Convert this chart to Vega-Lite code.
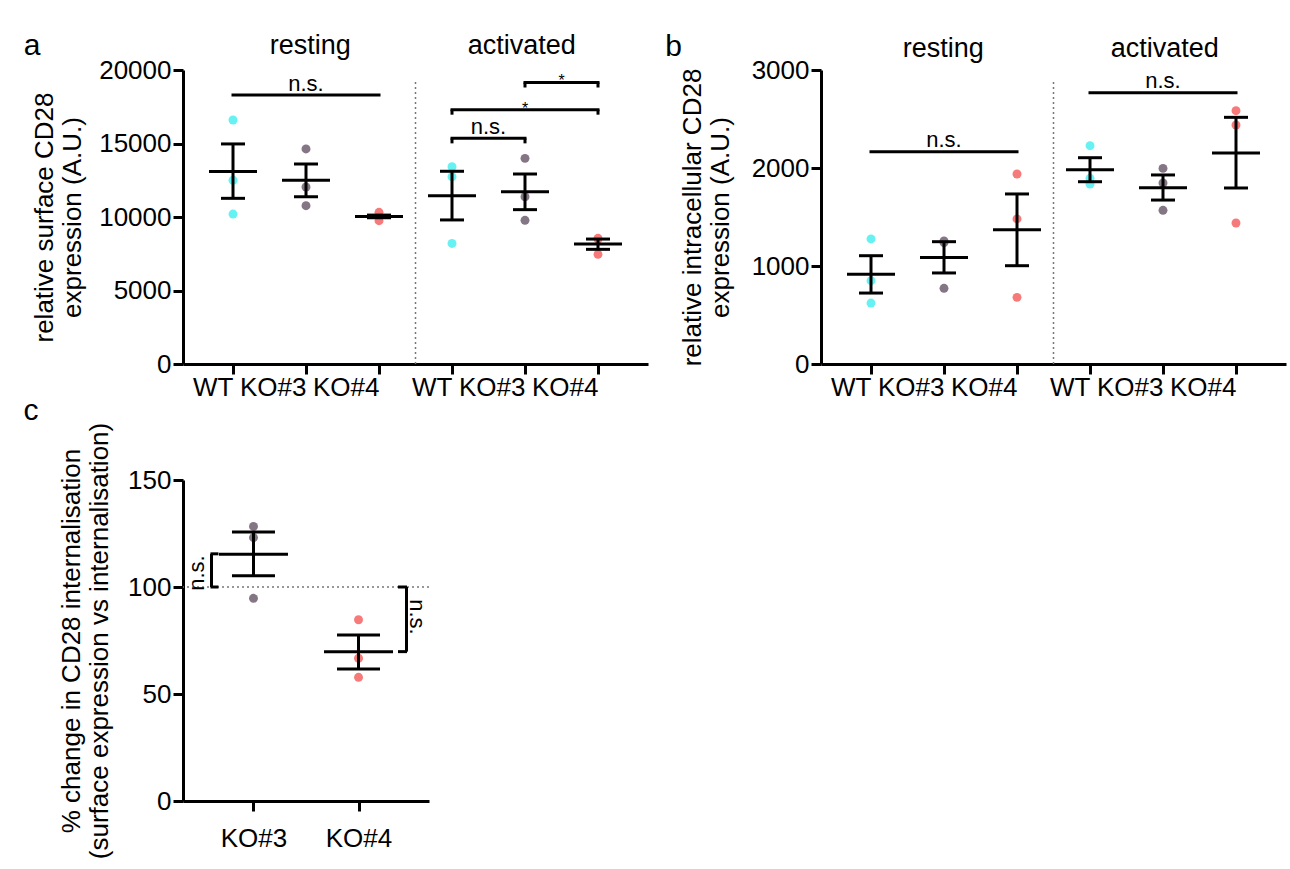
{
  "$schema": "https://vega.github.io/schema/vega-lite/v6.json",
  "background": "white",
  "padding": {"left": 23, "top": 31, "right": 5, "bottom": 5},
  "config": {
    "font": "Liberation Sans",
    "view": {"stroke": null},
    "axis": {"domainColor": "black", "domainWidth": 3, "tickColor": "black", "tickWidth": 3, "tickSize": 10, "labelFontSize": 26, "labelColor": "black", "titleFontSize": 26, "titleFontWeight": "normal", "titleColor": "black", "grid": false},
    "title": {"fontSize": 30, "fontWeight": "normal", "anchor": "start", "color": "black"}
  },
  "datasets": {
    "a_pts": [
      {"group": "resting WT", "genotype": "WT", "value": 16600},
      {"group": "resting WT", "genotype": "WT", "value": 12500},
      {"group": "resting WT", "genotype": "WT", "value": 10200},
      {"group": "resting KO#3", "genotype": "KO#3", "value": 14630},
      {"group": "resting KO#3", "genotype": "KO#3", "value": 12040},
      {"group": "resting KO#3", "genotype": "KO#3", "value": 10770},
      {"group": "resting KO#4", "genotype": "KO#4", "value": 9750},
      {"group": "resting KO#4", "genotype": "KO#4", "value": 10320},
      {"group": "resting KO#4", "genotype": "KO#4", "value": 10050},
      {"group": "activated WT", "genotype": "WT", "value": 12740},
      {"group": "activated WT", "genotype": "WT", "value": 13420},
      {"group": "activated WT", "genotype": "WT", "value": 8200},
      {"group": "activated KO#3", "genotype": "KO#3", "value": 13990},
      {"group": "activated KO#3", "genotype": "KO#3", "value": 11380},
      {"group": "activated KO#3", "genotype": "KO#3", "value": 9775},
      {"group": "activated KO#4", "genotype": "KO#4", "value": 8550},
      {"group": "activated KO#4", "genotype": "KO#4", "value": 8500},
      {"group": "activated KO#4", "genotype": "KO#4", "value": 7460}
    ],
    "a_sum": [
      {"group": "resting WT", "mean": 13100, "lo": 11270, "hi": 14970},
      {"group": "resting KO#3", "mean": 12500, "lo": 11380, "hi": 13600},
      {"group": "resting KO#4", "mean": 10040, "lo": 9950, "hi": 10130},
      {"group": "activated WT", "mean": 11450, "lo": 9800, "hi": 13110},
      {"group": "activated KO#3", "mean": 11720, "lo": 10500, "hi": 12925},
      {"group": "activated KO#4", "mean": 8160, "lo": 7800, "hi": 8500}
    ],
    "a_sig": [
      {"from": "resting WT", "to": "resting KO#4", "mid": "resting KO#3", "y": 18300, "label": "n.s."},
      {"from": "activated WT", "to": "activated KO#3", "mid": "activated WT|KO#3", "y": 15350, "label": "n.s."},
      {"from": "activated WT", "to": "activated KO#4", "mid": "activated KO#3", "y": 17300, "label": "*"},
      {"from": "activated KO#3", "to": "activated KO#4", "mid": "activated KO#3|KO#4", "y": 19150, "label": "*"}
    ],
    "b_pts": [
      {"group": "resting WT", "genotype": "WT", "value": 1276},
      {"group": "resting WT", "genotype": "WT", "value": 850},
      {"group": "resting WT", "genotype": "WT", "value": 622},
      {"group": "resting KO#3", "genotype": "KO#3", "value": 1255},
      {"group": "resting KO#3", "genotype": "KO#3", "value": 1240},
      {"group": "resting KO#3", "genotype": "KO#3", "value": 772},
      {"group": "resting KO#4", "genotype": "KO#4", "value": 1939},
      {"group": "resting KO#4", "genotype": "KO#4", "value": 1480},
      {"group": "resting KO#4", "genotype": "KO#4", "value": 680},
      {"group": "activated WT", "genotype": "WT", "value": 2228},
      {"group": "activated WT", "genotype": "WT", "value": 1837},
      {"group": "activated WT", "genotype": "WT", "value": 1895},
      {"group": "activated KO#3", "genotype": "KO#3", "value": 1996},
      {"group": "activated KO#3", "genotype": "KO#3", "value": 1847},
      {"group": "activated KO#3", "genotype": "KO#3", "value": 1568},
      {"group": "activated KO#4", "genotype": "KO#4", "value": 2585},
      {"group": "activated KO#4", "genotype": "KO#4", "value": 2439},
      {"group": "activated KO#4", "genotype": "KO#4", "value": 1439}
    ],
    "b_sum": [
      {"group": "resting WT", "mean": 915, "lo": 724, "hi": 1105},
      {"group": "resting KO#3", "mean": 1088, "lo": 929, "hi": 1248},
      {"group": "resting KO#4", "mean": 1370, "lo": 1003, "hi": 1735},
      {"group": "activated WT", "mean": 1983, "lo": 1860, "hi": 2105},
      {"group": "activated KO#3", "mean": 1799, "lo": 1673, "hi": 1929},
      {"group": "activated KO#4", "mean": 2153, "lo": 1796, "hi": 2517}
    ],
    "b_sig": [
      {"from": "resting WT", "to": "resting KO#4", "mid": "resting KO#3", "y": 2166, "label": "n.s."},
      {"from": "activated WT", "to": "activated KO#4", "mid": "activated KO#3", "y": 2768, "label": "n.s."}
    ],
    "c_pts": [
      {"genotype": "KO#3", "value": 128.3},
      {"genotype": "KO#3", "value": 123.1},
      {"genotype": "KO#3", "value": 94.7},
      {"genotype": "KO#4", "value": 84.7},
      {"genotype": "KO#4", "value": 66.7},
      {"genotype": "KO#4", "value": 57.8}
    ],
    "c_sum": [
      {"genotype": "KO#3", "mean": 115.3, "lo": 105.2, "hi": 125.7},
      {"genotype": "KO#4", "mean": 69.8, "lo": 61.7, "hi": 77.6}
    ],
    "c_sig": [
      {"genotype": "KO#3", "from": 100, "to": 115.5, "label": "n.s."},
      {"genotype": "KO#4", "from": 100, "to": 69.8, "label": "n.s."}
    ]
  },
  "columns": 2,
  "align": "none",
  "spacing": {"row": -4, "column": 17},
  "concat": [
    {
      "width": 465,
      "height": 294,
      "title": {"text": "a", "anchor": "start", "frame": "bounds", "fontSize": 30, "baseline": "alphabetic", "offset": 0, "dx": -8, "dy": 54},
      "layer": [
        {
          "data": {"values": [{"condition": "resting"}, {"condition": "activated"}]},
          "mark": {"type": "point", "opacity": 0},
          "encoding": {
            "x": {"field": "condition", "type": "nominal", "sort": null, "scale": {"type": "point", "domain": ["resting", "activated"], "padding": 0.6}, "axis": {"orient": "top", "title": null, "domain": false, "ticks": false, "labelPadding": 11, "labelAngle": 0, "labelFontSize": 27}}
          }
        },
        {
          "layer": [
            {
              "data": {"values": [{}]},
              "mark": {"type": "rule", "strokeDash": [2, 3], "strokeWidth": 1.5, "color": "#777777"},
              "encoding": {
                "x": {"datum": "divider", "type": "nominal"},
                "y": {"datum": 0, "type": "quantitative"},
                "y2": {"datum": 19200}
              }
            },
            {
              "data": {"name": "a_pts"},
              "mark": {"type": "circle", "size": 80, "opacity": 1},
              "encoding": {
                "x": {"field": "group", "type": "nominal", "sort": null, "scale": {"type": "point", "domain": ["start", "resting WT", "resting WT|KO#3", "resting KO#3", "resting KO#3|KO#4", "resting KO#4", "divider", "activated WT", "activated WT|KO#3", "activated KO#3", "activated KO#3|KO#4", "activated KO#4", "end"], "padding": 0.37}, "axis": {"orient": "bottom", "title": null, "values": ["resting WT", "resting KO#3", "resting KO#4", "activated WT", "activated KO#3", "activated KO#4"], "labelExpr": "split(datum.label, ' ')[1]", "labelAngle": 0, "labelPadding": 13, "labelFontSize": 26}},
                "y": {"field": "value", "type": "quantitative", "scale": {"domain": [0, 20000], "nice": false}, "axis": {"values": [0, 5000, 10000, 15000, 20000], "format": "d", "title": ["relative surface CD28", "expression (A.U.)"], "titlePadding": 13, "labelPadding": 2, "titleLineHeight": 28}},
                "color": {"field": "genotype", "type": "nominal", "scale": {"domain": ["WT", "KO#3", "KO#4"], "range": ["#66f2f2", "#857685", "#f77a7a"]}, "legend": null}
              }
            },
            {
              "data": {"name": "a_sum"},
              "mark": {"type": "rule", "strokeWidth": 3, "color": "black"},
              "encoding": {
                "x": {"field": "group", "type": "nominal"},
                "y": {"field": "lo", "type": "quantitative"},
                "y2": {"field": "hi"}
              }
            },
            {
              "data": {"name": "a_sum"},
              "mark": {"type": "tick", "orient": "horizontal", "size": 48, "thickness": 3, "color": "black", "opacity": 1},
              "encoding": {
                "x": {"field": "group", "type": "nominal"},
                "y": {"field": "mean", "type": "quantitative"}
              }
            },
            {
              "data": {"name": "a_sum"},
              "mark": {"type": "tick", "orient": "horizontal", "size": 24, "thickness": 3, "color": "black", "opacity": 1},
              "encoding": {
                "x": {"field": "group", "type": "nominal"},
                "y": {"field": "lo", "type": "quantitative"}
              }
            },
            {
              "data": {"name": "a_sum"},
              "mark": {"type": "tick", "orient": "horizontal", "size": 24, "thickness": 3, "color": "black", "opacity": 1},
              "encoding": {
                "x": {"field": "group", "type": "nominal"},
                "y": {"field": "hi", "type": "quantitative"}
              }
            },
            {
              "data": {"name": "a_sig"},
              "mark": {"type": "rule", "strokeWidth": 3, "color": "black", "strokeCap": "square"},
              "encoding": {
                "x": {"field": "from", "type": "nominal"},
                "x2": {"field": "to"},
                "y": {"field": "y", "type": "quantitative"}
              }
            },
            {
              "data": {"name": "a_sig"},
              "transform": [{"filter": "indexof(datum.from, 'activated') == 0"}],
              "mark": {"type": "rule", "strokeWidth": 3, "color": "black", "y2Offset": 5},
              "encoding": {
                "x": {"field": "from", "type": "nominal"},
                "y": {"field": "y", "type": "quantitative"},
                "y2": {"field": "y"}
              }
            },
            {
              "data": {"name": "a_sig"},
              "transform": [{"filter": "indexof(datum.from, 'activated') == 0"}],
              "mark": {"type": "rule", "strokeWidth": 3, "color": "black", "y2Offset": 5},
              "encoding": {
                "x": {"field": "to", "type": "nominal"},
                "y": {"field": "y", "type": "quantitative"},
                "y2": {"field": "y"}
              }
            },
            {
              "data": {"name": "a_sig"},
              "transform": [{"filter": "datum.label == 'n.s.'"}],
              "mark": {"type": "text", "fontSize": 22, "baseline": "alphabetic", "dy": -4, "color": "black"},
              "encoding": {
                "x": {"field": "mid", "type": "nominal"},
                "y": {"field": "y", "type": "quantitative"},
                "text": {"field": "label"}
              }
            },
            {
              "data": {"name": "a_sig"},
              "transform": [{"filter": "datum.label == '*'"}],
              "mark": {"type": "text", "fontSize": 16, "baseline": "alphabetic", "dy": 4, "color": "black"},
              "encoding": {
                "x": {"field": "mid", "type": "nominal"},
                "y": {"field": "y", "type": "quantitative"},
                "text": {"field": "label"}
              }
            }
          ]
        }
      ],
      "resolve": {"scale": {"x": "independent"}, "axis": {"x": "independent"}}
    },
    {
      "width": 465,
      "height": 294,
      "title": {"text": "b", "anchor": "start", "frame": "bounds", "fontSize": 30, "baseline": "alphabetic", "offset": 0, "dx": -14, "dy": 52},
      "layer": [
        {
          "data": {"values": [{"condition": "resting"}, {"condition": "activated"}]},
          "mark": {"type": "point", "opacity": 0},
          "encoding": {
            "x": {"field": "condition", "type": "nominal", "sort": null, "scale": {"type": "point", "domain": ["resting", "activated"], "padding": 0.55}, "axis": {"orient": "top", "title": null, "domain": false, "ticks": false, "labelPadding": 8, "labelAngle": 0, "labelFontSize": 27}}
          }
        },
        {
          "layer": [
            {
              "data": {"values": [{}]},
              "mark": {"type": "rule", "strokeDash": [2, 3], "strokeWidth": 1.5, "color": "#777777"},
              "encoding": {
                "x": {"datum": "divider", "type": "nominal"},
                "y": {"datum": 0, "type": "quantitative"},
                "y2": {"datum": 2877}
              }
            },
            {
              "data": {"name": "b_pts"},
              "mark": {"type": "circle", "size": 80, "opacity": 1},
              "encoding": {
                "x": {"field": "group", "type": "nominal", "sort": null, "scale": {"type": "point", "domain": ["start", "resting WT", "resting WT|KO#3", "resting KO#3", "resting KO#3|KO#4", "resting KO#4", "divider", "activated WT", "activated WT|KO#3", "activated KO#3", "activated KO#3|KO#4", "activated KO#4", "end"], "padding": 0.37}, "axis": {"orient": "bottom", "title": null, "values": ["resting WT", "resting KO#3", "resting KO#4", "activated WT", "activated KO#3", "activated KO#4"], "labelExpr": "split(datum.label, ' ')[1]", "labelAngle": 0, "labelPadding": 13, "labelFontSize": 26}},
                "y": {"field": "value", "type": "quantitative", "scale": {"domain": [0, 3000], "nice": false}, "axis": {"values": [0, 1000, 2000, 3000], "format": "d", "title": ["relative intracellular CD28", "expression (A.U.)"], "titlePadding": 18, "labelPadding": 2, "titleLineHeight": 28}},
                "color": {"field": "genotype", "type": "nominal", "scale": {"domain": ["WT", "KO#3", "KO#4"], "range": ["#66f2f2", "#857685", "#f77a7a"]}, "legend": null}
              }
            },
            {
              "data": {"name": "b_sum"},
              "mark": {"type": "rule", "strokeWidth": 3, "color": "black"},
              "encoding": {
                "x": {"field": "group", "type": "nominal"},
                "y": {"field": "lo", "type": "quantitative"},
                "y2": {"field": "hi"}
              }
            },
            {
              "data": {"name": "b_sum"},
              "mark": {"type": "tick", "orient": "horizontal", "size": 48, "thickness": 3, "color": "black", "opacity": 1},
              "encoding": {
                "x": {"field": "group", "type": "nominal"},
                "y": {"field": "mean", "type": "quantitative"}
              }
            },
            {
              "data": {"name": "b_sum"},
              "mark": {"type": "tick", "orient": "horizontal", "size": 24, "thickness": 3, "color": "black", "opacity": 1},
              "encoding": {
                "x": {"field": "group", "type": "nominal"},
                "y": {"field": "lo", "type": "quantitative"}
              }
            },
            {
              "data": {"name": "b_sum"},
              "mark": {"type": "tick", "orient": "horizontal", "size": 24, "thickness": 3, "color": "black", "opacity": 1},
              "encoding": {
                "x": {"field": "group", "type": "nominal"},
                "y": {"field": "hi", "type": "quantitative"}
              }
            },
            {
              "data": {"name": "b_sig"},
              "mark": {"type": "rule", "strokeWidth": 3, "color": "black", "strokeCap": "square"},
              "encoding": {
                "x": {"field": "from", "type": "nominal"},
                "x2": {"field": "to"},
                "y": {"field": "y", "type": "quantitative"}
              }
            },
            {
              "data": {"name": "b_sig"},
              "mark": {"type": "text", "fontSize": 22, "baseline": "alphabetic", "dy": -5, "color": "black"},
              "encoding": {
                "x": {"field": "mid", "type": "nominal"},
                "y": {"field": "y", "type": "quantitative"},
                "text": {"field": "label"}
              }
            }
          ]
        }
      ],
      "resolve": {"scale": {"x": "independent"}, "axis": {"x": "independent"}}
    },
    {
      "width": 246,
      "height": 321,
      "title": {"text": "c", "anchor": "start", "frame": "bounds", "fontSize": 30, "baseline": "alphabetic", "offset": 0, "dx": -35, "dy": 28},
      "layer": [
        {
          "data": {"values": [{}]},
          "mark": {"type": "rule", "strokeDash": [2, 3], "strokeWidth": 1.5, "color": "#777777"},
          "encoding": {
            "y": {"datum": 100, "type": "quantitative"}
          }
        },
        {
          "data": {"name": "c_pts"},
          "mark": {"type": "circle", "size": 80, "opacity": 1},
          "encoding": {
            "x": {"field": "genotype", "type": "nominal", "sort": null, "scale": {"type": "point", "domain": ["KO#3", "KO#4"], "padding": 0.671}, "axis": {"title": null, "labelAngle": 0, "labelPadding": 14, "labelFontSize": 26}},
            "y": {"field": "value", "type": "quantitative", "scale": {"domain": [0, 150], "nice": false}, "axis": {"values": [0, 50, 100, 150], "title": ["% change in CD28 internalisation", "(surface expression vs internalisation)"], "titlePadding": 15, "labelPadding": 2, "titleLineHeight": 28}},
            "color": {"field": "genotype", "type": "nominal", "scale": {"domain": ["WT", "KO#3", "KO#4"], "range": ["#66f2f2", "#857685", "#f77a7a"]}, "legend": null}
          }
        },
        {
          "data": {"name": "c_sum"},
          "mark": {"type": "rule", "strokeWidth": 3, "color": "black"},
          "encoding": {
            "x": {"field": "genotype", "type": "nominal"},
            "y": {"field": "lo", "type": "quantitative"},
            "y2": {"field": "hi"}
          }
        },
        {
          "data": {"name": "c_sum"},
          "mark": {"type": "tick", "orient": "horizontal", "size": 69, "thickness": 3, "color": "black", "opacity": 1},
          "encoding": {
            "x": {"field": "genotype", "type": "nominal"},
            "y": {"field": "mean", "type": "quantitative"}
          }
        },
        {
          "data": {"name": "c_sum"},
          "mark": {"type": "tick", "orient": "horizontal", "size": 43, "thickness": 3, "color": "black", "opacity": 1},
          "encoding": {
            "x": {"field": "genotype", "type": "nominal"},
            "y": {"field": "lo", "type": "quantitative"}
          }
        },
        {
          "data": {"name": "c_sum"},
          "mark": {"type": "tick", "orient": "horizontal", "size": 43, "thickness": 3, "color": "black", "opacity": 1},
          "encoding": {
            "x": {"field": "genotype", "type": "nominal"},
            "y": {"field": "hi", "type": "quantitative"}
          }
        },
        {
          "data": {"name": "c_sig"},
          "transform": [{"filter": "datum.genotype == 'KO#3'"}],
          "mark": {"type": "rule", "strokeWidth": 3, "color": "black", "xOffset": -42},
          "encoding": {
            "x": {"field": "genotype", "type": "nominal"},
            "y": {"field": "from", "type": "quantitative"},
            "y2": {"field": "to"}
          }
        },
        {
          "data": {"name": "c_sig"},
          "transform": [{"filter": "datum.genotype == 'KO#3'"}],
          "mark": {"type": "tick", "orient": "horizontal", "size": 8, "thickness": 3, "color": "black", "opacity": 1, "xOffset": -39},
          "encoding": {
            "x": {"field": "genotype", "type": "nominal"},
            "y": {"field": "from", "type": "quantitative"}
          }
        },
        {
          "data": {"name": "c_sig"},
          "transform": [{"filter": "datum.genotype == 'KO#3'"}],
          "mark": {"type": "tick", "orient": "horizontal", "size": 8, "thickness": 3, "color": "black", "opacity": 1, "xOffset": -39},
          "encoding": {
            "x": {"field": "genotype", "type": "nominal"},
            "y": {"field": "to", "type": "quantitative"}
          }
        },
        {
          "data": {"name": "c_sig"},
          "transform": [{"filter": "datum.genotype == 'KO#3'"}],
          "mark": {"type": "text", "fontSize": 22, "angle": 270, "align": "center", "baseline": "middle", "xOffset": -56, "yOffset": -14, "color": "black"},
          "encoding": {
            "x": {"field": "genotype", "type": "nominal"},
            "y": {"field": "from", "type": "quantitative"},
            "text": {"field": "label"}
          }
        },
        {
          "data": {"name": "c_sig"},
          "transform": [{"filter": "datum.genotype == 'KO#4'"}],
          "mark": {"type": "rule", "strokeWidth": 3, "color": "black", "xOffset": 48},
          "encoding": {
            "x": {"field": "genotype", "type": "nominal"},
            "y": {"field": "from", "type": "quantitative"},
            "y2": {"field": "to"}
          }
        },
        {
          "data": {"name": "c_sig"},
          "transform": [{"filter": "datum.genotype == 'KO#4'"}],
          "mark": {"type": "tick", "orient": "horizontal", "size": 9, "thickness": 3, "color": "black", "opacity": 1, "xOffset": 44},
          "encoding": {
            "x": {"field": "genotype", "type": "nominal"},
            "y": {"field": "from", "type": "quantitative"}
          }
        },
        {
          "data": {"name": "c_sig"},
          "transform": [{"filter": "datum.genotype == 'KO#4'"}],
          "mark": {"type": "tick", "orient": "horizontal", "size": 9, "thickness": 3, "color": "black", "opacity": 1, "xOffset": 44},
          "encoding": {
            "x": {"field": "genotype", "type": "nominal"},
            "y": {"field": "to", "type": "quantitative"}
          }
        },
        {
          "data": {"name": "c_sig"},
          "transform": [{"filter": "datum.genotype == 'KO#4'"}],
          "mark": {"type": "text", "fontSize": 22, "angle": 90, "align": "center", "baseline": "middle", "xOffset": 58, "yOffset": 30, "color": "black"},
          "encoding": {
            "x": {"field": "genotype", "type": "nominal"},
            "y": {"field": "from", "type": "quantitative"},
            "text": {"field": "label"}
          }
        }
      ]
    }
  ]
}
